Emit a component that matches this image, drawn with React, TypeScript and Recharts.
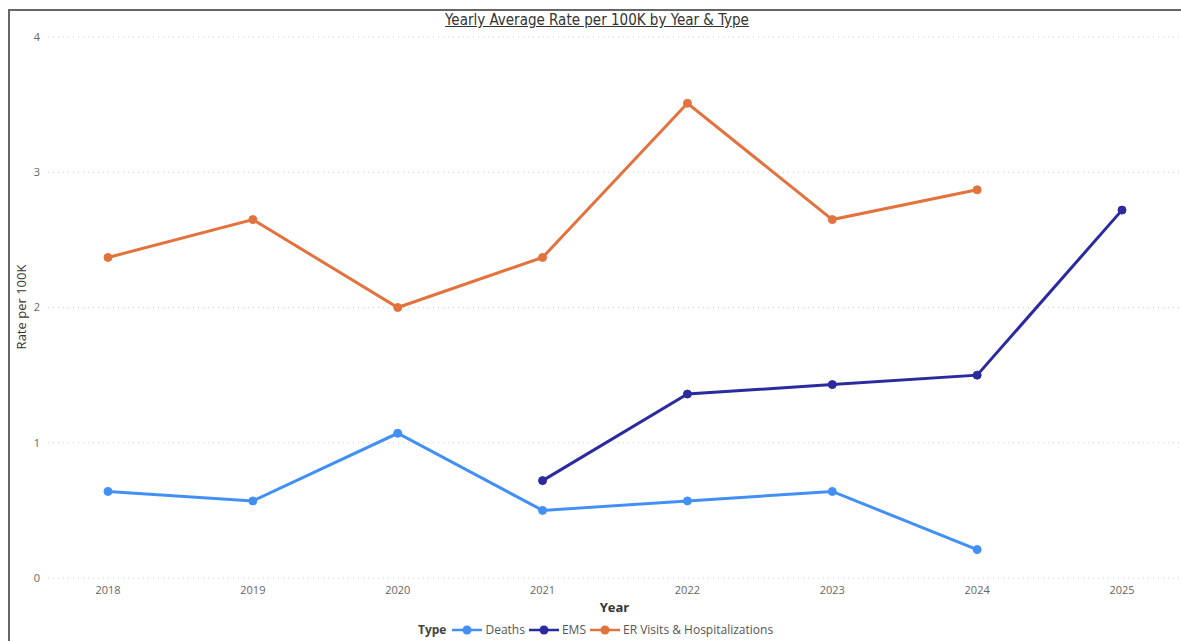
import React from 'react';
import { LineChart, Line, XAxis, YAxis, CartesianGrid } from 'recharts';

const YEARS = ['2018', '2019', '2020', '2021', '2022', '2023', '2024', '2025'];
const DEATHS = [0.64, 0.57, 1.07, 0.5, 0.57, 0.64, 0.21, null];
const EMS = [null, null, null, 0.72, 1.36, 1.43, 1.5, 2.72];
const ER_VISITS = [2.37, 2.65, 2.0, 2.37, 3.51, 2.65, 2.87, null];
const Y_TICKS = [0, 1, 2, 3, 4];

const SERIES = [
  { key: 'deaths', name: 'Deaths', color: '#4290F5', values: DEATHS },
  { key: 'ems', name: 'EMS', color: '#2B2A9E', values: EMS },
  { key: 'er', name: 'ER Visits & Hospitalizations', color: '#E3723D', values: ER_VISITS },
];

const data = YEARS.map((year, i) => {
  const row: Record<string, any> = { year };
  SERIES.forEach(s => { row[s.key] = s.values[i]; });
  return row;
});

const FONT = '"Open Sans", "Noto Sans", sans-serif';

const YLabel = () => {
  const cy = 307;
  return (
    <text x={21} y={cy} transform={`rotate(-90, 21, ${cy})`} textAnchor="middle" dominantBaseline="central"
      fill="#333" fontSize={13} fontFamily={FONT}>
      Rate per 100K
    </text>
  );
};

export default function App() {
  return (
    <div style={{ position: 'fixed', left: 0, top: 0, width: 1181, height: 641, background: '#fff', overflow: 'hidden' }}>
      <div style={{ position: 'absolute', left: 8, top: 9, width: 1181, height: 641, borderLeft: '2px solid #666', borderTop: '2px solid #666', boxSizing: 'border-box' }} />
      <div style={{ position: 'absolute', left: 0, top: 11, width: 1194, textAlign: 'center', fontFamily: '"DejaVu Sans Condensed", "DejaVu Sans", sans-serif', fontSize: 15, color: '#333', textDecoration: 'underline' }}>
        Yearly Average Rate per 100K by Year &amp; Type
      </div>
      <div style={{ position: 'absolute', left: 0, top: 0 }}>
        <LineChart width={1181} height={641} data={data} margin={{ top: 37, right: 0, left: 8, bottom: 23 }}>
          <CartesianGrid vertical={false} stroke="#ccc" strokeDasharray="1 4" />
          <XAxis
            dataKey="year"
            height={40}
            axisLine={false}
            tickLine={false}
            padding={{ left: 60, right: 59 }}
            tick={{ fill: '#666', fontSize: 11, fontFamily: FONT }}
            label={{ value: 'Year', position: 'insideBottom', offset: 6, fill: '#333', fontSize: 13, fontWeight: 'bold', fontFamily: FONT }}
          />
          <YAxis
            width={40}
            domain={[0, 4]}
            ticks={Y_TICKS}
            axisLine={false}
            tickLine={false}
            tick={{ fill: '#666', fontSize: 11, fontFamily: FONT }}
            label={<YLabel />}
          />
          {SERIES.map(s => (
            <Line
              key={s.key}
              dataKey={s.key}
              name={s.name}
              stroke={s.color}
              strokeWidth={3}
              dot={{ r: 4, fill: s.color, stroke: s.color, strokeWidth: 1 }}
              activeDot={false}
              connectNulls={false}
              isAnimationActive={false}
            />
          ))}
        </LineChart>
      </div>
      <div style={{ position: 'absolute', left: 418, top: 621, display: 'flex', alignItems: 'center', fontFamily: FONT, fontSize: 12, color: '#555', whiteSpace: 'nowrap' }}>
        <span style={{ fontWeight: 'bold', color: '#444', marginRight: 6 }}>Type</span>
        {SERIES.map(s => (
          <span key={s.key} style={{ display: 'flex', alignItems: 'center', marginRight: 4 }}>
            <svg width={30} height={12} style={{ marginRight: 3 }}>
              <line x1={0} y1={6} x2={30} y2={6} stroke={s.color} strokeWidth={2.5} />
              <circle cx={15} cy={6} r={4.5} fill={s.color} />
            </svg>
            {s.name}
          </span>
        ))}
      </div>
    </div>
  );
}
